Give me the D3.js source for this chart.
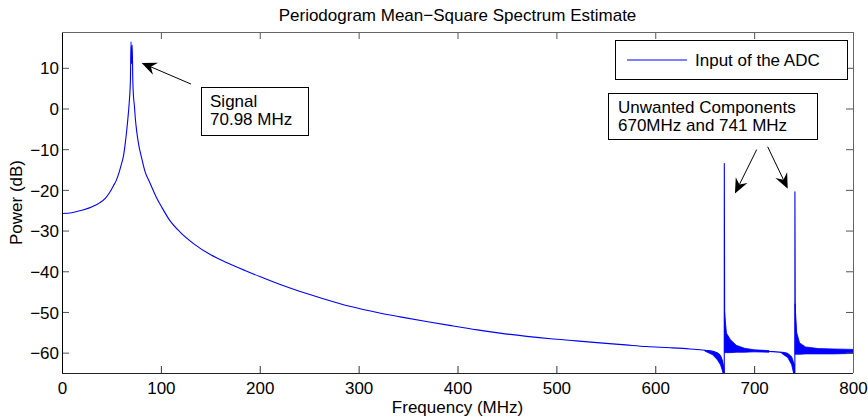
<!DOCTYPE html>
<html>
<head>
<meta charset="utf-8">
<script src="https://cdn.jsdelivr.net/npm/d3@7"></script>
<style>
  body { margin:0; background:#fff; }
  svg { display:block; font-family:"Liberation Sans", Arial, Helvetica, sans-serif; }
</style>
</head>
<body>
<svg id="chart" width="868" height="419"></svg>
<script>
// ===== data =====
const freq = [0, 10, 20, 30, 38, 44, 48.5, 52, 55, 58, 60.3, 62, 64, 65.5, 67, 68.3, 69.2, 69.8, 70.3, 71.0,
  71.6, 72.3, 73.1, 74.2, 75.4, 77.5, 80.6, 84, 89, 95, 101, 109, 120, 133, 150, 167, 185, 200, 220, 240,
  261, 291, 320, 342, 370, 392, 420, 443, 470, 494, 520, 544, 570, 591, 615, 635, 650, 660, 665, 668,
  669.8, 669.85, 670.2, 672, 676, 682, 690, 700, 715, 730, 735, 738, 740, 741.2, 741.25, 741.6, 743, 746,
  752, 760, 775, 790, 800];
const power = [-25.8, -25.6, -25.0, -24.2, -23.2, -22.0, -20.5, -19.0, -17.6, -15.5, -13.5, -11.9, -8.5, -5.3, -1.5, 2.5, 7, 16.4, 11, 15.6,
  7, 3, 1.0, -2.5, -5.3, -8.8, -12.2, -15.5, -18.3, -21.6, -24.3, -27.5, -30.5, -33.2, -35.9, -37.9, -39.8, -41.3, -43.2, -44.9,
  -46.5, -48.6, -50.2, -51.2, -52.4, -53.3, -54.4, -55.2, -56.0, -56.6, -57.1, -57.6, -58.1, -58.5, -58.8, -59.1, -59.4, -59.8, -60.5, -62.5,
  -67, -13.5, -54, -55.8, -57.6, -58.6, -59.2, -59.5, -59.7, -60.0, -60.5, -61.8, -64, -67, -20.5, -50, -56, -58,
  -59, -59.3, -59.5, -59.6, -59.7];

// noise fuzz around the two spurs (upper / lower envelope, NaN = gap)
const bandFreq = [650, 658, 663, 666, 668, 669.6, NaN,
  670.1, 672, 676, 682, 690, 700, 715, NaN,
  728, 734, 738, 740.8, NaN,
  741.4, 743, 746, 752, 765, 780, 800];
const bandHi = [-59.4, -59.7, -60.1, -60.8, -62, -64, NaN,
  -50, -55.2, -56.8, -58.2, -58.9, -59.3, -59.5, NaN,
  -59.9, -60.2, -61, -63, NaN,
  -48, -55, -57.6, -58.6, -59.0, -59.1, -59.2];
const bandLo = [-59.6, -60.5, -61.8, -63, -64.5, -66, NaN,
  -60, -60, -60, -59.9, -59.9, -59.8, -59.9, NaN,
  -60.2, -61.2, -63, -66, NaN,
  -60.4, -60.4, -60.4, -60.3, -60.3, -60.3, -60.2];

const xTicks = [0, 100, 200, 300, 400, 500, 600, 700, 800];
const yTicks = [-60, -50, -40, -30, -20, -10, 0, 10];
const xDomain = [0, 800];
const yDomain = [-65, 18.8];

const titleText = 'Periodogram Mean\u2212Square Spectrum Estimate';
const xLabel = 'Frequency (MHz)';
const yLabel = 'Power (dB)';
const legendLabel = 'Input of the ADC';

// annotations in data units: box corner, arrows tail -> tip
const signalBox = {f:140.6, db:5.2, w:107, h:48, lines:['Signal', '70.98 MHz']};
const signalArrows = [{f1:130.5, d1:6.0, f2:80.6, d2:11.2}];
const spurBox = {f:553.2, db:3.8, w:209, h:46, lines:['Unwanted Components', '670MHz and 741 MHz']};
const spurArrows = [{f1:702.6, d1:-10.1, f2:680.6, d2:-20.9}, {f1:713.7, d1:-9.4, f2:734, d2:-19.7}];

// ===== layout =====
const svg = d3.select('#chart');
const M = {top:32, right:15, bottom:46, left:62};
const W = +svg.attr('width'), H = +svg.attr('height');

const x = d3.scaleLinear().domain(xDomain).range([M.left, W - M.right]);
const y = d3.scaleLinear().domain(yDomain).range([H - M.bottom, M.top]);
const fs = 17;

svg.append('rect').attr('width', W).attr('height', H).attr('fill', '#fff');

svg.append('clipPath').attr('id', 'plotclip').append('rect')
  .attr('x', x.range()[0]).attr('y', y.range()[1])
  .attr('width', x.range()[1] - x.range()[0]).attr('height', y.range()[0] - y.range()[1]);

const gPlot = svg.append('g').attr('clip-path', 'url(#plotclip)');

const rows = freq.map((f, i) => ({f, p: power[i]}));
const band = bandFreq.map((f, i) => ({f, hi: bandHi[i], lo: bandLo[i]}));

gPlot.append('path')
  .attr('d', d3.area().defined(d => !isNaN(d.f)).x(d => x(d.f)).y0(d => y(d.lo)).y1(d => y(d.hi))(band))
  .attr('fill', '#0000ff').attr('stroke', '#0000ff').attr('stroke-width', 0.8);

gPlot.append('path')
  .attr('d', d3.line().curve(d3.curveMonotoneX).x(d => x(d.f)).y(d => y(d.p))(rows))
  .attr('fill', 'none').attr('stroke', '#0000ff').attr('stroke-width', 1.1)
  .attr('stroke-linejoin', 'round');

// ===== axes (MATLAB box, inward ticks) =====
const tick = 7;
function styleAxis(g, col){
  g.select('.domain').remove();
  g.selectAll('.tick line').attr('stroke', col);
  g.selectAll('.tick text').attr('fill', '#000').style('font-size', fs + 'px').style('font-family', null);
}
const xb = svg.append('g').attr('transform', `translate(0,${y.range()[0]})`)
  .call(d3.axisBottom(x).tickValues(xTicks).tickSizeInner(-tick).tickSizeOuter(0));
styleAxis(xb, '#333');
xb.selectAll('.tick text').attr('dy', 0).attr('y', 21);
const xt = svg.append('g').attr('transform', `translate(0,${y.range()[1]})`)
  .call(d3.axisTop(x).tickValues(xTicks).tickSizeInner(-tick).tickSizeOuter(0).tickFormat(''));
styleAxis(xt, '#555');
const yl = svg.append('g').attr('transform', `translate(${x.range()[0]},0)`)
  .call(d3.axisLeft(y).tickValues(yTicks).tickSizeInner(-tick).tickSizeOuter(0));
styleAxis(yl, '#555');
yl.selectAll('.tick text').attr('x', -3).attr('dy', '0.36em');
const yr = svg.append('g').attr('transform', `translate(${x.range()[1]},0)`)
  .call(d3.axisRight(y).tickValues(yTicks).tickSizeInner(-tick).tickSizeOuter(0).tickFormat(''));
styleAxis(yr, '#555');

// box
const bx = svg.append('g').attr('fill', 'none').attr('shape-rendering', 'crispEdges');
bx.append('line').attr('x1', x.range()[0]).attr('x2', x.range()[0]).attr('y1', y.range()[1]).attr('y2', y.range()[0]).attr('stroke', '#000');
bx.append('line').attr('x1', x.range()[0]).attr('x2', x.range()[1]).attr('y1', y.range()[0]).attr('y2', y.range()[0]).attr('stroke', '#222');
bx.append('line').attr('x1', x.range()[0]).attr('x2', x.range()[1]).attr('y1', y.range()[1]).attr('y2', y.range()[1]).attr('stroke', '#666');
bx.append('line').attr('x1', x.range()[1]).attr('x2', x.range()[1]).attr('y1', y.range()[1]).attr('y2', y.range()[0]).attr('stroke', '#666');

// labels
const midX = (x.range()[0] + x.range()[1]) / 2;
svg.append('text').attr('x', midX).attr('y', 21).attr('text-anchor', 'middle')
  .style('font-size', fs + 'px').text(titleText);
svg.append('text').attr('x', midX).attr('y', 413).attr('text-anchor', 'middle')
  .style('font-size', fs + 'px').text(xLabel);
svg.append('text').attr('transform', `translate(22,${(y.range()[0] + y.range()[1]) / 2}) rotate(-90)`)
  .attr('text-anchor', 'middle').style('font-size', fs + 'px').text(yLabel);

// legend
const lg = svg.append('g').attr('transform', `translate(${x.range()[1] - 238},${y.range()[1] + 8})`);
lg.append('rect').attr('width', 232).attr('height', 39).attr('fill', '#fff').attr('stroke', '#000').attr('shape-rendering', 'crispEdges');
lg.append('line').attr('x1', 12).attr('x2', 72).attr('y1', 20).attr('y2', 20).attr('stroke', '#0000ff');
lg.append('text').attr('x', 80).attr('y', 26).style('font-size', fs + 'px').text(legendLabel);

// annotations
function textBox(b){
  const g = svg.append('g').attr('transform', `translate(${x(b.f)},${y(b.db)})`);
  g.append('rect').attr('width', b.w).attr('height', b.h).attr('fill', '#fff').attr('stroke', '#000').attr('shape-rendering', 'crispEdges');
  g.selectAll('text').data(b.lines).join('text')
    .attr('x', 9).attr('y', (d, i) => 20 + i * 18)
    .style('font-size', fs + 'px').text(d => d);
}
function arrow(a){
  const x1 = x(a.f1), y1 = y(a.d1), x2 = x(a.f2), y2 = y(a.d2);
  const ang = Math.atan2(y2 - y1, x2 - x1);
  const c = Math.cos(ang), s = Math.sin(ang);
  const L = 15, Wd = 6.5, N = 10;
  svg.append('line').attr('x1', x1).attr('y1', y1).attr('x2', x2 - N * c).attr('y2', y2 - N * s)
    .attr('stroke', '#000').attr('stroke-width', 1);
  const pts = [[x2, y2], [x2 - L * c - Wd * s, y2 - L * s + Wd * c], [x2 - N * c, y2 - N * s], [x2 - L * c + Wd * s, y2 - L * s - Wd * c]];
  svg.append('path').attr('d', 'M' + pts.map(p => p.join(',')).join('L') + 'Z').attr('fill', '#000');
}
textBox(signalBox);
signalArrows.forEach(arrow);
textBox(spurBox);
spurArrows.forEach(arrow);
</script>
</body>
</html>
